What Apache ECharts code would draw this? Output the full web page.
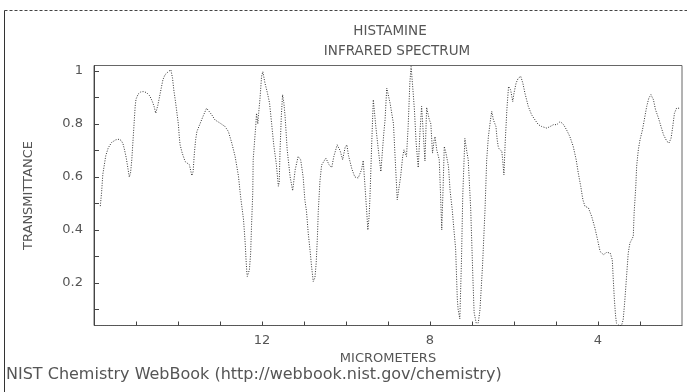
<!DOCTYPE html>
<html>
<head>
<meta charset="utf-8">
<script src="https://cdn.jsdelivr.net/npm/echarts@6/dist/echarts.min.js"></script>
<style>
html,body{margin:0;padding:0;background:#fff;}
#chart{width:687px;height:392px;}
</style>
</head>
<body>
<div id="chart"></div>
<script>
// Data (wavelength in micrometers, transmittance)
var wavelengths = [15.85,15.82,15.79,15.76,15.72,15.66,15.58,15.48,15.40,15.35,15.31,15.27,15.23,15.19,15.16,15.13,15.10,15.08,15.06,15.04,15.02,15.00,14.95,14.89,14.83,14.75,14.67,14.61,14.57,14.53,14.48,14.43,14.36,14.31,14.23,14.17,14.13,14.10,14.06,14.03,13.99,13.97,13.95,13.90,13.83,13.79,13.73,13.67,13.64,13.61,13.58,13.55,13.52,13.40,13.32,13.28,13.20,13.12,13.00,12.88,12.80,12.72,12.64,12.56,12.51,12.44,12.40,12.38,12.36,12.35,12.32,12.30,12.27,12.25,12.22,12.21,12.18,12.15,12.13,12.10,12.08,12.05,12.01,11.98,11.93,11.87,11.82,11.77,11.72,11.66,11.61,11.59,11.57,11.54,11.51,11.48,11.45,11.40,11.33,11.27,11.21,11.14,11.08,11.05,11.02,10.98,10.94,10.90,10.86,10.82,10.78,10.74,10.71,10.68,10.66,10.62,10.58,10.54,10.48,10.44,10.40,10.34,10.29,10.21,10.14,10.08,10.02,9.98,9.94,9.86,9.79,9.71,9.63,9.59,9.55,9.51,9.48,9.45,9.43,9.39,9.35,9.29,9.23,9.17,9.15,9.10,9.07,9.03,8.95,8.87,8.82,8.78,8.75,8.70,8.65,8.62,8.59,8.56,8.52,8.48,8.45,8.40,8.37,8.33,8.28,8.24,8.20,8.16,8.12,8.08,8.02,7.98,7.94,7.90,7.88,7.84,7.78,7.75,7.72,7.69,7.66,7.62,7.56,7.52,7.47,7.43,7.39,7.35,7.33,7.29,7.25,7.22,7.17,7.13,7.09,7.03,6.98,6.95,6.90,6.85,6.81,6.75,6.69,6.65,6.61,6.56,6.53,6.49,6.43,6.40,6.37,6.29,6.27,6.24,6.21,6.17,6.13,6.08,6.03,6.00,5.95,5.90,5.84,5.79,5.74,5.66,5.58,5.50,5.42,5.34,5.22,5.14,5.06,4.98,4.90,4.82,4.75,4.67,4.59,4.52,4.47,4.41,4.36,4.31,4.23,4.15,4.07,4.01,3.95,3.87,3.79,3.71,3.66,3.64,3.61,3.58,3.56,3.50,3.44,3.40,3.36,3.32,3.28,3.24,3.20,3.16,3.14,3.10,3.08,3.04,3.00,2.94,2.89,2.84,2.79,2.74,2.68,2.63,2.56,2.50,2.44,2.36,2.31,2.26,2.22,2.18,2.13,2.06];
var transmittance = [0.49,0.54,0.61,0.64,0.68,0.71,0.73,0.74,0.742,0.737,0.725,0.70,0.67,0.63,0.60,0.615,0.665,0.715,0.765,0.815,0.866,0.893,0.912,0.92,0.922,0.918,0.905,0.884,0.866,0.84,0.87,0.91,0.966,0.985,0.997,1.004,0.972,0.928,0.884,0.847,0.797,0.752,0.721,0.69,0.658,0.665,0.646,0.605,0.62,0.69,0.74,0.771,0.778,0.83,0.859,0.855,0.835,0.815,0.803,0.79,0.771,0.728,0.677,0.602,0.526,0.439,0.35,0.288,0.238,0.225,0.23,0.25,0.313,0.413,0.539,0.665,0.728,0.79,0.84,0.80,0.84,0.891,0.979,0.997,0.954,0.916,0.878,0.80,0.72,0.65,0.565,0.58,0.70,0.83,0.91,0.88,0.828,0.702,0.60,0.548,0.627,0.677,0.665,0.633,0.60,0.514,0.47,0.389,0.33,0.263,0.206,0.22,0.275,0.376,0.47,0.585,0.645,0.652,0.671,0.668,0.645,0.635,0.677,0.721,0.699,0.665,0.712,0.721,0.68,0.63,0.60,0.596,0.627,0.662,0.57,0.476,0.40,0.45,0.52,0.715,0.891,0.79,0.702,0.62,0.627,0.765,0.815,0.935,0.878,0.80,0.64,0.514,0.52,0.60,0.677,0.702,0.69,0.677,0.79,0.954,1.016,0.916,0.85,0.728,0.635,0.765,0.866,0.765,0.66,0.862,0.818,0.80,0.69,0.74,0.752,0.702,0.665,0.539,0.40,0.55,0.715,0.69,0.64,0.545,0.476,0.40,0.33,0.14,0.10,0.065,0.288,0.53,0.745,0.702,0.665,0.476,0.225,0.09,0.049,0.05,0.10,0.263,0.476,0.665,0.752,0.815,0.847,0.815,0.79,0.74,0.709,0.696,0.665,0.608,0.728,0.853,0.941,0.928,0.884,0.916,0.954,0.972,0.979,0.954,0.916,0.866,0.834,0.815,0.797,0.79,0.784,0.79,0.797,0.797,0.809,0.797,0.778,0.752,0.715,0.665,0.615,0.564,0.514,0.489,0.484,0.451,0.405,0.363,0.319,0.307,0.316,0.313,0.288,0.225,0.137,0.074,0.049,0.04,0.04,0.062,0.137,0.225,0.313,0.351,0.363,0.376,0.464,0.564,0.64,0.702,0.74,0.778,0.822,0.866,0.897,0.91,0.891,0.853,0.822,0.79,0.759,0.734,0.728,0.746,0.79,0.84,0.859,0.859];

var xTickValues = [3,4,5,6,7,8,9,10,11,12,13,14,15];
var xLabelValues = [12,8,4];
var yTickValues = [0.1,0.2,0.3,0.4,0.5,0.6,0.7,0.8,0.9,1.0];
var yLabelValues = [0.2,0.4,0.6,0.8,1.0];

var titleLines = ['HISTAMINE','INFRARED SPECTRUM'];
var xAxisTitle = 'MICROMETERS';
var yAxisTitle = 'TRANSMITTANCE';
var footerText = 'NIST Chemistry WebBook (http://webbook.nist.gov/chemistry)';

var points = wavelengths.map(function(w,i){return [w, transmittance[i]];});
var txtColor = '#555';
var font = 'DejaVu Sans';

var chart = echarts.init(document.getElementById('chart'), null, {renderer:'canvas'});
chart.setOption({
  animation:false,
  backgroundColor:'#fff',
  title:[
    {text:titleLines[0], left:385, top:19, textAlign:'center',
     textStyle:{fontFamily:font,fontSize:13.5,fontWeight:'normal',color:txtColor}},
    {text:titleLines[1], left:392, top:39, textAlign:'center',
     textStyle:{fontFamily:font,fontSize:13.5,fontWeight:'normal',color:txtColor}}
  ],
  grid:{left:94, right:5, top:65.5, bottom:66.5, show:true, borderColor:'#666', borderWidth:1, backgroundColor:'transparent'},
  xAxis:{
    type:'value', min:2, max:16, inverse:true,
    name:xAxisTitle, nameLocation:'middle', nameGap:22,
    nameTextStyle:{fontFamily:font,fontSize:13,color:txtColor},
    axisLine:{show:true,lineStyle:{color:'#555',width:1,type:'dotted'}},
    axisTick:{show:true,inside:true,length:4,customValues:xTickValues,lineStyle:{color:'#444'}},
    axisLabel:{show:true,customValues:xLabelValues,margin:9,fontFamily:font,fontSize:13,color:txtColor},
    splitLine:{show:false}
  },
  yAxis:{
    type:'value', min:0.04, max:1.02,
    name:yAxisTitle, nameLocation:'middle', nameGap:59, nameRotate:90,
    nameTextStyle:{fontFamily:font,fontSize:13,color:txtColor},
    axisLine:{show:true,lineStyle:{color:'#444',width:1}},
    axisTick:{show:true,inside:true,length:5,customValues:yTickValues,lineStyle:{color:'#444'}},
    axisLabel:{show:true,customValues:yLabelValues,margin:11,fontFamily:font,fontSize:13,color:txtColor,
      formatter:function(v){return Math.abs(v-1)<1e-6?'1':v.toFixed(1);}},
    splitLine:{show:false}
  },
  graphic:[
    {type:'line', shape:{x1:4.5,y1:10.5,x2:687,y2:10.5}, style:{stroke:'#444',lineWidth:1,lineDash:[3,2]}},
    {type:'line', shape:{x1:4.5,y1:10.5,x2:4.5,y2:392}, style:{stroke:'#333',lineWidth:1}},
    {type:'text', left:6, top:367, style:{text:footerText, font:'16px "DejaVu Sans"', fill:txtColor}}
  ],
  series:[{
    type:'line', data:points, showSymbol:false, smooth:false,
    lineStyle:{color:'#333', width:1, type:[1,1.5]}
  }]
});
</script>
</body>
</html>
